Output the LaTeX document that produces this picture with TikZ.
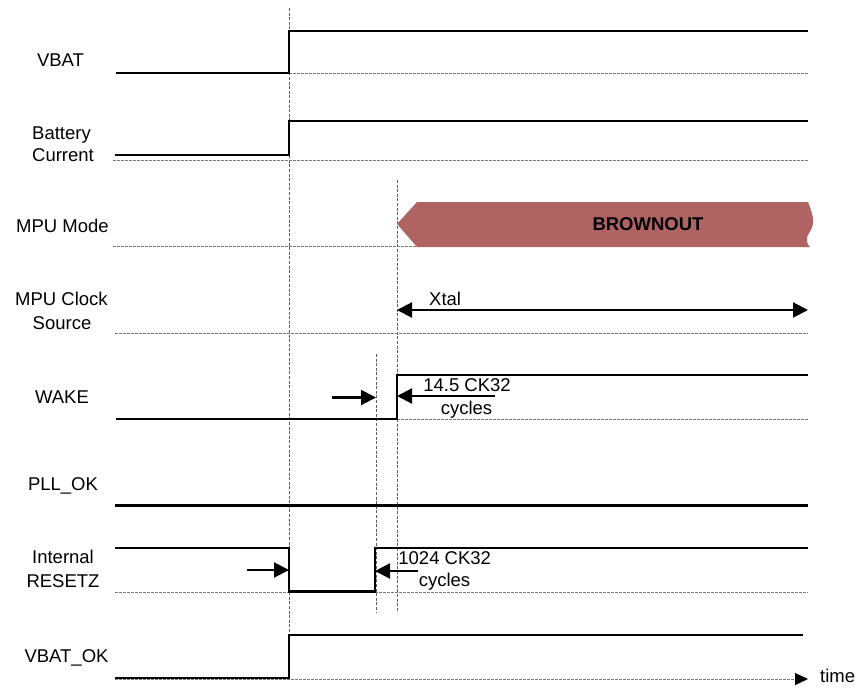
\documentclass[tikz,border=0pt]{standalone}
\usepackage{fontspec}
\setmainfont{Liberation Sans}
\usetikzlibrary{arrows.meta}
\definecolor{bocolor}{RGB}{176,99,99}
\definecolor{guidegray}{RGB}{120,120,120}
\begin{document}
\begin{tikzpicture}[x=1pt,y=-1pt,
  sig/.style={line width=2.7pt, line join=miter},
  guide/.style={draw=guidegray, line width=0.8pt, dash pattern=on 2.5pt off 1.5pt},
  vguide/.style={draw=guidegray!80!black, line width=0.9pt, dash pattern=on 3pt off 1.6pt},
  lbl/.style={font=\fontsize{18.5}{22}\selectfont, inner sep=0pt, anchor=base},
  dimarrow/.style={line width=2.1pt, -{Triangle[length=15pt,width=15pt]}},
  dblarrow/.style={line width=2.1pt, {Triangle[length=15pt,width=15pt]}-{Triangle[length=15pt,width=15pt]}},
  timearrow/.style={guide, -{Triangle[length=13pt,width=12pt,color=black]}},
]
\useasboundingbox (0,0) rectangle (859,694);

% vertical guides
\draw[vguide] (289,8) -- (289,664);
\draw[vguide] (397,180) -- (397,612);
\draw[vguide] (376,354) -- (376,612);

% horizontal guides
\draw[guide] (289,73) -- (808,73);
\draw[guide] (113,160) -- (808,160);
\draw[guide] (113,246) -- (417,246);
\draw[guide] (115,333) -- (808,333);
\draw[guide] (397,419) -- (808,419);
\draw[guide] (115,592) -- (808,592);

% labels
\node[lbl] (lvbat) at (60.5,66) {VBAT};
\node[lbl] (lbat1) at (61.5,139.5) {Battery};
\node[lbl] (lbat2) at (63,161) {Current};
\node[lbl] (lmode) at (62.5,232) {MPU Mode};
\node[lbl] (lclk1) at (61.5,305) {MPU Clock};
\node[lbl] (lclk2) at (62,329) {Source};
\node[lbl] (lwake) at (62,403) {WAKE};
\node[lbl] (lpll) at (63,490) {PLL\_OK};
\node[lbl] (lrst1) at (63,563) {Internal};
\node[lbl] (lrst2) at (63,587) {RESETZ};
\node[lbl] (lvok) at (66.5,662) {VBAT\_OK};

% VBAT
\draw[sig] (116,73) -- (289,73) -- (289,31) -- (808,31);
% Battery current
\draw[sig] (115,155) -- (289,155) -- (289,121) -- (808,121);

% MPU mode brownout
\fill[bocolor] (397,224) -- (417,202) -- (808,202)
  .. controls (811,210) and (814,217) .. (813,224)
  .. controls (812,231) and (806,235) .. (807,240)
  .. controls (807,244) and (809,246) .. (810,247)
  -- (417,247) -- cycle;
\node[lbl, font=\fontsize{18.5}{22}\selectfont\bfseries] (brown) at (648,230.5) {BROWNOUT};

% MPU clock source
\coordinate (xa) at (397,310);
\coordinate (xb) at (808,310);
\draw[dblarrow] (xa) -- (xb);
\node[lbl, anchor=base west] (xtal) at (429,305) {Xtal};

% WAKE
\draw[sig] (116,419) -- (397,419) -- (397,375) -- (808,375);
\coordinate (wa1) at (332,397.5);
\coordinate (wa2) at (376,397.5);
\draw[dimarrow] (wa1) -- (wa2);
\coordinate (wb1) at (495,396);
\coordinate (wb2) at (397,396);
\draw[dimarrow] (wb1) -- (wb2);
\node[lbl] (wt1) at (467,391.5) {14.5 CK32};
\node[lbl] (wt2) at (466.5,414.5) {cycles};

% PLL_OK
\draw[sig] (115,505.5) -- (808,505.5);

% Internal RESETZ
\draw[sig] (115,548) -- (289,548) -- (289,591.5) -- (375,591.5) -- (375,548) -- (808,548);
\coordinate (ra1) at (247,570);
\coordinate (ra2) at (289,570);
\draw[dimarrow] (ra1) -- (ra2);
\coordinate (rb1) at (418,571);
\coordinate (rb2) at (375,571);
\draw[dimarrow] (rb1) -- (rb2);
\node[lbl] (rt1) at (444.7,564) {1024 CK32};
\node[lbl] (rt2) at (444.5,586) {cycles};

% VBAT_OK
\coordinate (t0) at (115,679);
\coordinate (t1) at (808,679);
\draw[timearrow] (t0) -- (t1);
\draw[sig] (115,678) -- (289,678) -- (289,635) -- (803,635);
\node[lbl, anchor=base west] (time) at (820,682) {time};
\end{tikzpicture}
\end{document}
